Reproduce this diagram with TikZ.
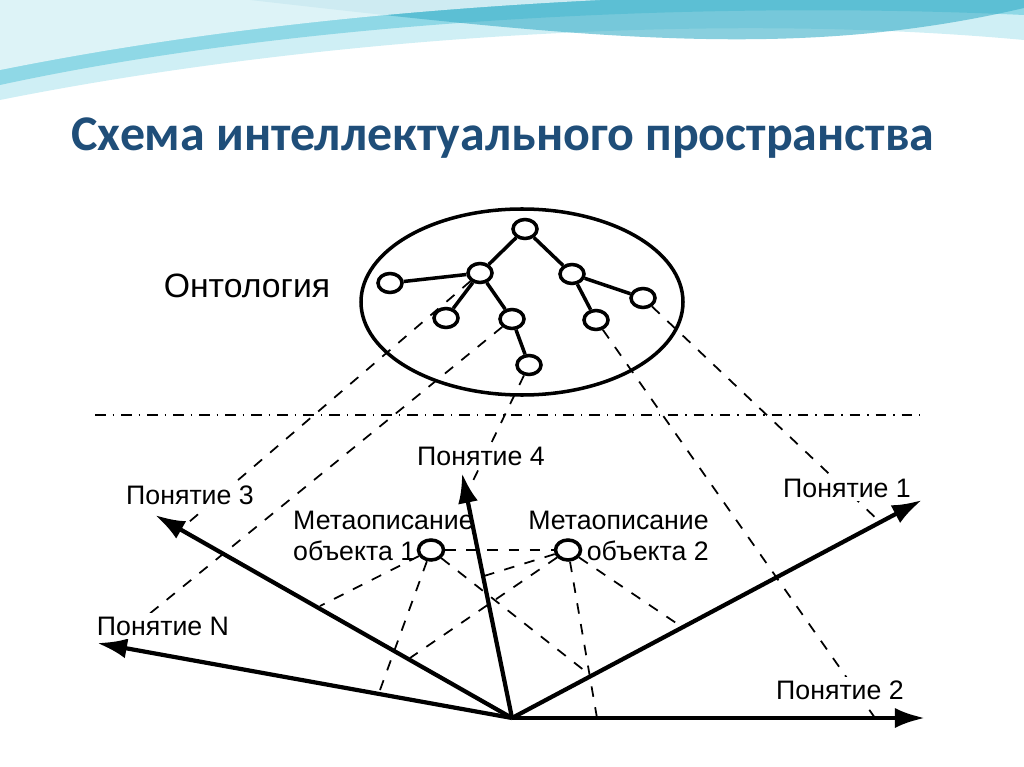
\documentclass[tikz,border=0pt]{standalone}
\usepackage{fontspec}
\setmainfont{Liberation Sans}
\newfontfamily\titlefont{Carlito}
\usetikzlibrary{arrows.meta, shapes.geometric}
\definecolor{titleblue}{HTML}{1F4E79}
\definecolor{wavelight}{HTML}{CFEFF5}
\definecolor{wavemid}{HTML}{7FD3E3}
\definecolor{wavedark}{HTML}{3BAFC8}
\tikzstyle{vertex} = [ellipse, draw=black, line width=1pt, fill=white, minimum width=0.24cm, minimum height=0.19cm, inner sep=0pt]
\tikzstyle{edge} = [line width=1pt]
\tikzstyle{axis} = [line width=1.2pt, -{Latex[length=0.3cm, width=0.2cm]}]
\tikzstyle{proj} = [dashed, line width=0.5pt]
\tikzstyle{lbl} = [font=\fontsize{7.6}{9}\selectfont, inner sep=1pt, fill=white]
\begin{document}
\begin{tikzpicture}[x=0.01cm, y=-0.01cm]
    \useasboundingbox (0,0) rectangle (1024,767);
    %background
    \fill[wavelight] (0,0) -- (1024,0) -- (1024,40) .. controls (700,10) and (300,40) .. (0,100) -- cycle;
    \fill[wavemid, opacity=0.8] (0,0) -- (1024,0) -- (1024,15) .. controls (700,0) and (300,20) .. (0,85) -- cycle;
    \fill[wavedark, opacity=0.6] (250,0) -- (1024,0) -- (1024,8) .. controls (800,60) and (600,40) .. (250,0) -- cycle;
    \fill[white, opacity=0.7] (0,0) -- (600,0) .. controls (400,10) and (200,30) .. (0,70) -- cycle;
    \node (title) at (503,138) {\titlefont\bfseries\fontsize{14.2}{17}\selectfont\color{titleblue}Схема интеллектуального пространства};

    %ontology
    \draw[line width=1pt] (522,302) ellipse (161 and 93);
    \node (onto) at (247,286) {\fontsize{9.6}{11}\selectfont Онтология};
    \node (root) [vertex] at (525,229) {};
    \node (a) [vertex] at (480,273) {};
    \node (b) [vertex] at (572,274) {};
    \node (l) [vertex] at (390,283) {};
    \node (c) [vertex] at (446,318) {};
    \node (d) [vertex] at (512,319) {};
    \node (e) [vertex] at (596,320) {};
    \node (f) [vertex] at (643,298) {};
    \node (g) [vertex] at (529,365) {};
    \draw [edge] (root) -- (a);
    \draw [edge] (root) -- (b);
    \draw [edge] (a) -- (l);
    \draw [edge] (a) -- (c);
    \draw [edge] (a) -- (d);
    \draw [edge] (d) -- (g);
    \draw [edge] (b) -- (e);
    \draw [edge] (b) -- (f);

    \draw [dash dot, line width=0.6pt] (95,415) -- (920,415);

    %axes
    \coordinate (o) at (512,718);
    \coordinate (p1) at (922,500);
    \coordinate (p2) at (925,718);
    \coordinate (p3) at (155,515);
    \coordinate (p4) at (462,473);
    \coordinate (pn) at (97,643);
    \draw [axis] (o) -- (p1);
    \draw [axis] (o) -- (p2);
    \draw [axis] (o) -- (p3);
    \draw [axis] (o) -- (p4);
    \draw [axis] (o) -- (pn);

    %projections of ontology
    \coordinate (t3) at (182,528);
    \coordinate (tn) at (148,615);
    \coordinate (t4) at (470,487);
    \coordinate (t2) at (875,718);
    \coordinate (t1) at (880,522);
    \draw [proj] (a) -- (t3);
    \draw [proj] (d) -- (tn);
    \draw [proj] (g) -- (t4);
    \draw [proj] (e) -- (t2);
    \draw [proj] (f) -- (t1);

    \node (l1) [lbl] at (847,488) {Понятие 1};
    \node (l2) [lbl] at (840,690) {Понятие 2};
    \node (l3) [lbl] at (190,495) {Понятие 3};
    \node (l4) [lbl] at (481,456) {Понятие 4};
    \node (ln) [lbl] at (163,626) {Понятие N};

    %metadescriptions
    \node (m1) [vertex, minimum width=0.25cm, minimum height=0.2cm] at (431,550) {};
    \node (m2) [vertex, minimum width=0.25cm, minimum height=0.2cm] at (568,550) {};
    \node (ml1) [lbl, fill=none, align=left, anchor=west] at (289,536) {Метаописание\\объекта 1};
    \node (ml2) [lbl, fill=none, align=right, anchor=east] at (713,536) {Метаописание\\объекта 2};
    \draw [proj] (m1) -- (m2);
    \coordinate (q13) at (320,606);
    \coordinate (q1n) at (380,690);
    \coordinate (q11) at (590,675);
    \coordinate (q24) at (484,576);
    \coordinate (q23) at (410,658);
    \coordinate (q22) at (597,718);
    \coordinate (q21) at (682,627);
    \draw [proj] (m1) -- (q13);
    \draw [proj] (m1) -- (q1n);
    \draw [proj] (m1) -- (q11);
    \draw [proj] (m2) -- (q24);
    \draw [proj] (m2) -- (q23);
    \draw [proj] (m2) -- (q22);
    \draw [proj] (m2) -- (q21);
\end{tikzpicture}
\end{document}
